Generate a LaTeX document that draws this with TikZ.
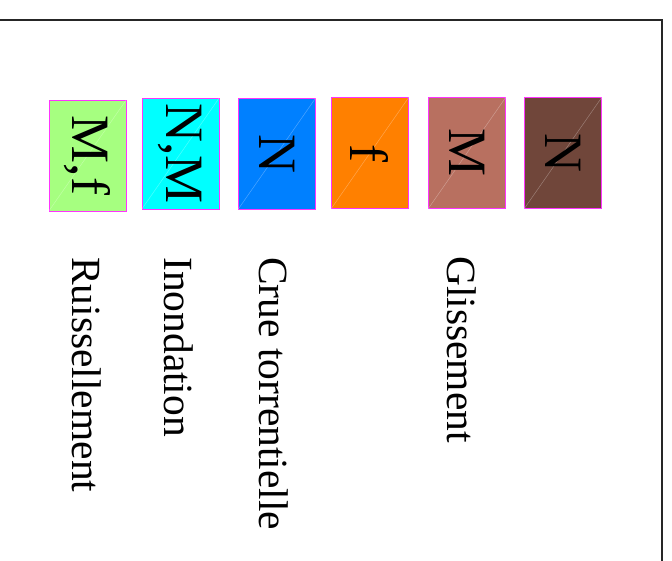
\documentclass[tikz,border=0pt]{standalone}
\usepackage{fontspec}
\setmainfont{Liberation Serif}
\definecolor{cgreen}{HTML}{A6FF80}
\definecolor{ccyan}{HTML}{00FFFF}
\definecolor{cblue}{HTML}{0080FF}
\definecolor{corange}{HTML}{FF8000}
\definecolor{cbrownl}{HTML}{B87060}
\definecolor{cbrownd}{HTML}{70463A}
\definecolor{cmag}{HTML}{FF33FF}
\tikzset{
  hazbox/.style={draw=cmag, line width=1pt, minimum width=77pt, minimum height=111pt, inner sep=0pt, text=black},
  haztxt/.style={rotate=-90, inner sep=0pt, font=\fontsize{54}{60}\selectfont},
  hazlabel/.style={rotate=-90, anchor=base west, inner sep=0pt, font=\fontsize{41.5}{48}\selectfont},
  diag/.style={white, opacity=0.3, line width=0.5pt}
}
\begin{document}
\begin{tikzpicture}[x=1pt,y=-1pt]
\useasboundingbox (0,0) rectangle (672,560);
\draw[line width=1.2pt, black!85] (-10,20) -- (662,20) -- (662,570);
\foreach \nm/\cx/\cy/\col/\txt in {b1/87.5/155.5/cgreen/{M,f}, b2/180.5/153.5/ccyan/{N,M}, b3/277/153.5/cblue/N, b4/370/153/corange/f, b5/467/153/cbrownl/M, b6/563/153/cbrownd/N}{
  \node[hazbox, fill=\col] (\nm) at (\cx,\cy) {};
  \draw[diag] (\nm.south west) -- (\nm.north east);
  \node[haztxt] (\nm t) at (\nm.center) {\txt};
}
\node[hazlabel] (l1) at (72,257) {Ruissellement};
\node[hazlabel] (l2) at (164,257) {Inondation};
\node[hazlabel] (l3) at (259,257) {Crue torrentielle};
\node[hazlabel] (l4) at (447,256) {Glissement};
\end{tikzpicture}
\end{document}
